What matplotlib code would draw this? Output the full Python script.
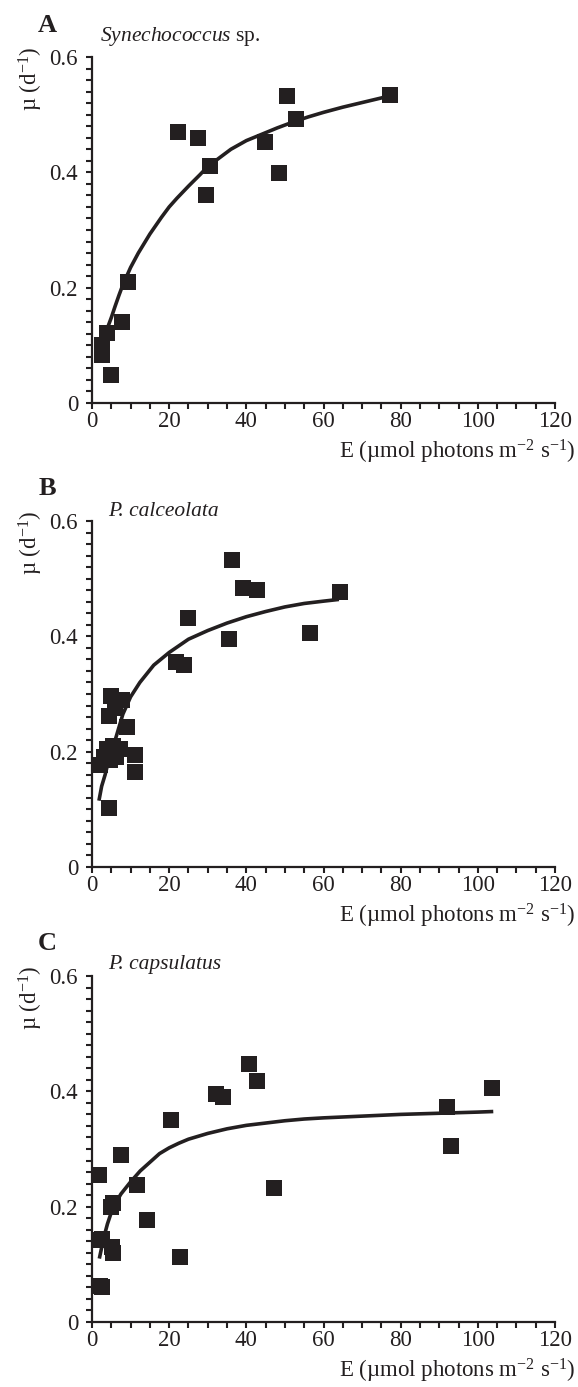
import numpy as np
import matplotlib
matplotlib.use('Agg')
from matplotlib import pyplot as plt
from matplotlib.ticker import MultipleLocator, FixedLocator

plt.rcParams['font.family'] = 'Liberation Serif'
plt.rcParams['mathtext.fontset'] = 'custom'
plt.rcParams['mathtext.rm'] = 'Liberation Serif'
plt.rcParams['mathtext.it'] = 'Liberation Serif:italic'
plt.rcParams['mathtext.default'] = 'regular'

# Panel A - Synechococcus sp.
E_a = [22.2, 27.4, 30.6, 29.5, 44.8, 48.5, 50.6, 52.8, 77.3, 9.4, 7.9, 3.8, 2.5, 2.5, 4.8]
mu_a = [0.470, 0.460, 0.411, 0.360, 0.453, 0.399, 0.532, 0.492, 0.534, 0.209, 0.141, 0.121, 0.101, 0.083, 0.049]
fitE_a = [4.0, 5, 6, 7, 8, 10, 12, 15, 18, 20, 22, 25, 28, 30, 33, 36, 40, 44, 48, 52, 56, 60, 65, 70, 75, 78]
fitmu_a = [0.13, 0.148, 0.168, 0.187, 0.205, 0.235, 0.26, 0.293, 0.322, 0.34, 0.355, 0.376, 0.396, 0.41, 0.425,
           0.44, 0.455, 0.466, 0.477, 0.487, 0.496, 0.504, 0.513, 0.521, 0.529, 0.535]

# Panel B - P. calceolata
E_b = [36.4, 39.2, 42.7, 64.2, 24.9, 35.5, 56.5, 21.7, 23.9, 4.9, 7.7, 6.0, 4.4, 9.0, 11.1, 11.1, 4.3,
       2.0, 3.2, 3.8, 4.7, 5.5, 6.2, 6.5, 7.2]
mu_b = [0.533, 0.483, 0.480, 0.477, 0.431, 0.395, 0.405, 0.355, 0.351, 0.297, 0.289, 0.275, 0.261, 0.243,
        0.194, 0.165, 0.102, 0.177, 0.19, 0.205, 0.186, 0.21, 0.19, 0.205, 0.205]
fitE_b = [1.8, 2.5, 3.4, 4.5, 6.0, 8.0, 10, 12.4, 16, 20, 25, 30, 35, 40, 45, 50, 55, 60, 64]
fitmu_b = [0.115, 0.14, 0.16, 0.19, 0.22, 0.265, 0.295, 0.32, 0.35, 0.372, 0.395, 0.41, 0.423, 0.434,
           0.443, 0.451, 0.457, 0.461, 0.464]

# Panel C - P. capsulatus
E_c = [40.7, 42.7, 32.1, 34.0, 20.6, 7.4, 1.8, 11.6, 47.1, 4.9, 5.5, 14.2, 2.0, 2.6, 5.2, 5.5, 22.8,
       2.0, 2.6, 92.1, 93.0, 103.8]
mu_c = [0.448, 0.418, 0.396, 0.390, 0.351, 0.290, 0.255, 0.237, 0.232, 0.200, 0.206, 0.177, 0.142, 0.144,
        0.130, 0.119, 0.112, 0.062, 0.061, 0.372, 0.306, 0.406]
fitE_c = [1.9, 3, 4, 5, 6, 7.5, 10, 12.5, 15, 17.5, 20, 22.5, 25, 30, 35, 40, 45, 50, 55, 60, 70, 80, 90, 100, 104]
fitmu_c = [0.11, 0.145, 0.17, 0.19, 0.205, 0.222, 0.243, 0.262, 0.277, 0.292, 0.302, 0.31, 0.317, 0.327,
           0.335, 0.341, 0.345, 0.349, 0.352, 0.354, 0.357, 0.36, 0.362, 0.364, 0.365]

letters = ['A', 'B', 'C']
ytick_vals = [0, 0.2, 0.4, 0.6]
ytick_text = ['0', '0.2', '0.4', '0.6']
xtick_vals = [0, 20, 40, 60, 80, 100, 120]

W, H = 578, 1387
fig = plt.figure(figsize=(W / 100, H / 100), dpi=100)

ink = '#231f20'
fs = 16.5

# pixel tops of each axes box, plus offset for the species name
tops = [57, 521, 976]
species_dy = [21, 10, 11]
panels = [(E_a, mu_a, fitE_a, fitmu_a), (E_b, mu_b, fitE_b, fitmu_b), (E_c, mu_c, fitE_c, fitmu_c)]

for i, (E, mu, fE, fmu) in enumerate(panels):
    top = tops[i]
    ax = fig.add_axes([92 / W, 1 - (top + 346) / H, 463 / W, 346 / H])
    ax.plot(fE, fmu, '-', color=ink, lw=2.6, zorder=2, solid_capstyle='butt')
    ax.plot(E, mu, 's', color=ink, ms=11.5, mew=0, zorder=3, clip_on=False)

    ax.set_xlim(0, 120)
    ax.set_ylim(0, 0.6)
    for s in ['top', 'right']:
        ax.spines[s].set_visible(False)
    for s in ['left', 'bottom']:
        ax.spines[s].set_linewidth(1.6)
        ax.spines[s].set_color(ink)

    ax.xaxis.set_major_locator(FixedLocator(xtick_vals))
    ax.xaxis.set_minor_locator(MultipleLocator(5))
    ax.yaxis.set_major_locator(FixedLocator(ytick_vals))
    ax.set_yticklabels(ytick_text)
    ax.yaxis.set_minor_locator(MultipleLocator(0.02))
    ax.tick_params(axis='both', which='both', direction='out', color=ink, width=1.5,
                   labelsize=fs, labelcolor=ink)
    ax.tick_params(axis='x', which='both', length=4.5, pad=1.5)
    ax.tick_params(axis='y', which='both', length=4, pad=6)

    ax.set_xlabel('E (\u00b5mol photons m$^{-2}$ s$^{-1}$)', fontsize=fs, color=ink,
                  ha='right', va='center')
    ax.xaxis.set_label_coords(1.045, -49 / 346)

    fig.text(31 / W, 1 - (top - 10) / H, '\u00b5 (d$^{-1}$)', rotation=90, ha='center', va='top',
             fontsize=fs, color=ink)
    fig.text(47 / W, 1 - (top - 32) / H, letters[i], fontsize=19, weight='bold', ha='center',
             va='center', color=ink)

    sy = 1 - (top - species_dy[i]) / H
    if i == 0:
        fig.text(100 / W, sy, r'$\it{Synechococcus}$ sp.', fontsize=15.5, ha='left', va='center', color=ink)
    elif i == 1:
        fig.text(108 / W, sy, 'P. calceolata', fontsize=15.5, style='italic', ha='left', va='center', color=ink)
    else:
        fig.text(108 / W, sy, 'P. capsulatus', fontsize=15.5, style='italic', ha='left', va='center', color=ink)

fig.savefig('out.png', dpi=100)
